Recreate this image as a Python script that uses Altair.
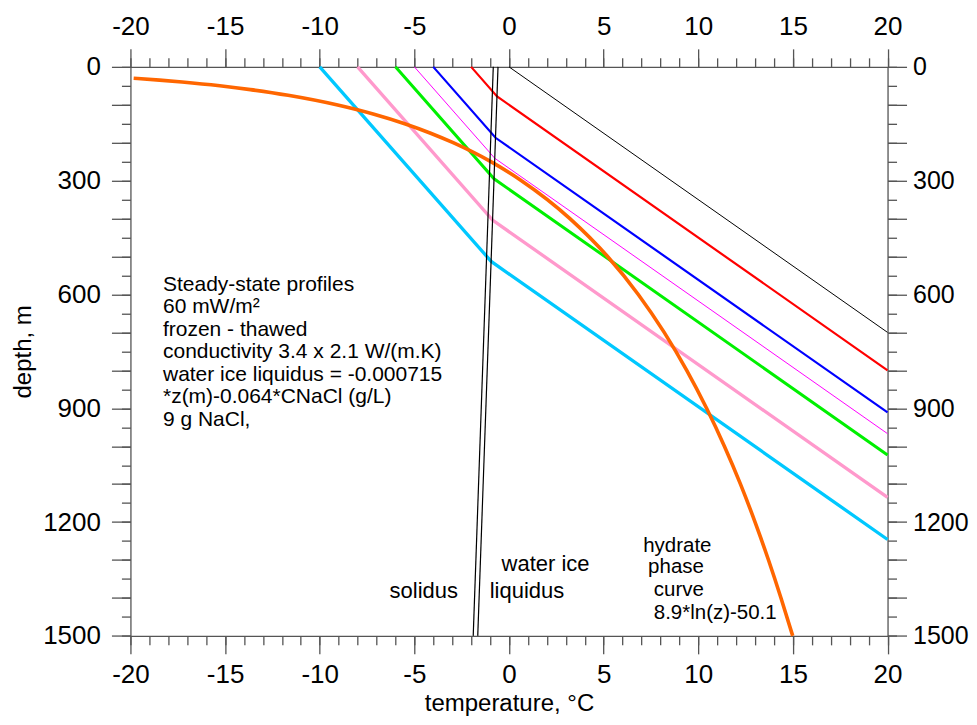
import altair as alt
import pandas as pd

# ---------------- data ----------------
profile_names = ["T0=0", "T0=-2", "T0=-4", "T0=-5", "T0=-6", "T0=-8", "T0=-10"]
profile_colors = ["#000000", "#ff0000", "#0000ff", "#ff00ff", "#00f000", "#ff99cc", "#00c8ff"]
profile_widths = [1.0, 2.2, 2.2, 1.0, 3.0, 3.3, 3.3]

p0_temp = [0, 20]
p0_depth = [0, 700]
p2_temp = [-2, -0.63, 20]
p2_depth = [0, 78, 800]
p4_temp = [-4, -0.71, 20]
p4_depth = [0, 187, 911]
p5_temp = [-5, -0.75, 20]
p5_depth = [0, 241, 967]
p6_temp = [-6, -0.79, 20]
p6_depth = [0, 295, 1023]
p8_temp = [-8, -0.87, 20]
p8_depth = [0, 404, 1135]
p10_temp = [-10, -0.94, 20]
p10_depth = [0, 513, 1246]

solidus_temp = [-0.83, -1.89]
solidus_depth = [0, 1500]
liquidus_temp = [-0.58, -1.65]
liquidus_depth = [0, 1500]

hydrate_depth = [30, 35, 40, 50, 60, 75, 100, 125, 150, 175, 200, 250, 300, 400, 500,
                 600, 700, 800, 900, 1000, 1100, 1200, 1300, 1400, 1500]
hydrate_temp = [-19.83, -18.46, -17.27, -15.28, -13.66, -11.67, -9.11, -7.13, -5.51,
                -4.14, -2.95, -0.96, 0.66, 3.22, 5.21, 6.83, 8.20, 9.39, 10.44, 11.38,
                12.23, 13.00, 13.71, 14.37, 14.99]

note_text = ["Steady-state profiles", "60 mW/m\u00b2", "frozen - thawed",
             "conductivity 3.4 x 2.1 W/(m.K)", "water ice liquidus = -0.000715",
             "*z(m)-0.064*CNaCl (g/L)", "9 g NaCl,",
             "solidus", "water ice", "liquidus",
             "hydrate", "phase", "curve", "8.9*ln(z)-50.1"]
note_temp = [-18.28] * 7 + [-6.31, -0.39, -1.02, 7.09, 7.35, 7.65, 7.65]
note_depth = [590, 649, 709, 768, 827, 886, 946,
              1399, 1329, 1399, 1278, 1335, 1396, 1455]
note_size = [21] * 7 + [22, 22, 22, 20.5, 20.5, 20.5, 20.5]

# ---------------- tables ----------------
prof_t = [p0_temp, p2_temp, p4_temp, p5_temp, p6_temp, p8_temp, p10_temp]
prof_z = [p0_depth, p2_depth, p4_depth, p5_depth, p6_depth, p8_depth, p10_depth]
rows = []
for name, w, ts, zs in zip(profile_names, profile_widths, prof_t, prof_z):
    for i, (t, z) in enumerate(zip(ts, zs)):
        rows.append({"series": name, "w": w, "T": t, "z": z, "idx": i})
profiles = pd.DataFrame(rows)

rows = []
for name, ts, zs in [("solidus", solidus_temp, solidus_depth),
                     ("liquidus", liquidus_temp, liquidus_depth)]:
    for i, (t, z) in enumerate(zip(ts, zs)):
        rows.append({"series": name, "T": t, "z": z, "idx": i})
phase = pd.DataFrame(rows)

hydrate = pd.DataFrame({"T": hydrate_temp, "z": hydrate_depth,
                        "idx": list(range(len(hydrate_depth)))})
notes = pd.DataFrame({"text": note_text, "T": note_temp, "z": note_depth, "fs": note_size})

# ---------------- scales & axes ----------------
FONT = "Liberation Sans"
AX = "#555555"
xs = alt.Scale(domain=[-20, 20], nice=False, zero=False)
ys = alt.Scale(domain=[0, 1500], reverse=True, nice=False, zero=False)

base = dict(grid=False, domainColor=AX, domainWidth=1.3, tickColor=AX, tickWidth=1.3,
            labelFont=FONT, labelColor="#000000", labelOverlap=False, labelFlush=False)

x_major_vals = list(range(-20, 21, 5))
x_minor_vals = list(range(-20, 21, 1))
y_major_vals = list(range(0, 1501, 100))
y_minor_vals = list(range(0, 1501, 50))
x_lab = "'' + datum.value"
y_lab = "datum.value % 300 == 0 ? '' + datum.value : ''"

x_bottom_major = alt.Axis(orient="bottom", values=x_major_vals, tickSize=18, labelPadding=8,
                          labelExpr=x_lab, labelFontSize=26,
                          title="temperature, \u00b0C", titleFont=FONT,
                          titleFontSize=24, titleFontWeight="normal", titleColor="#000000",
                          titlePadding=4, **base)
x_top_major = alt.Axis(orient="top", values=x_major_vals, tickSize=18, labelPadding=9,
                       labelExpr=x_lab, labelFontSize=26, title=None, **base)
x_bottom_minor = alt.Axis(orient="bottom", values=x_minor_vals, tickSize=9, labels=False,
                          domain=False, title=None, **base)
x_top_minor = alt.Axis(orient="top", values=x_minor_vals, tickSize=9, labels=False,
                       domain=False, title=None, **base)

y_left_major = alt.Axis(orient="left", values=y_major_vals, tickSize=19, labelPadding=11,
                        labelExpr=y_lab, labelFontSize=26,
                        title="depth, m", titleFont=FONT, titleFontSize=24,
                        titleFontWeight="normal", titleColor="#000000", titlePadding=7,
                        **base)
y_right_major = alt.Axis(orient="right", values=y_major_vals, tickSize=19, labelPadding=6,
                         labelExpr=y_lab, labelFontSize=25, title=None, **base)
y_left_minor = alt.Axis(orient="left", values=y_minor_vals, tickSize=9, labels=False,
                        domain=False, title=None, **base)
y_right_minor = alt.Axis(orient="right", values=y_minor_vals, tickSize=9, labels=False,
                         domain=False, title=None, **base)

# ---------------- layers ----------------
prof_layer = alt.Chart(profiles).mark_line().encode(
    x=alt.X("T:Q", scale=xs, axis=x_bottom_major),
    y=alt.Y("z:Q", scale=ys, axis=y_left_major),
    color=alt.Color("series:N", scale=alt.Scale(domain=profile_names, range=profile_colors),
                    legend=None),
    strokeWidth=alt.StrokeWidth("w:Q", scale=None, legend=None),
    detail="series:N",
    order=alt.Order("idx:Q"),
)

hyd_layer = alt.Chart(hydrate).mark_line(color="#ff6600", strokeWidth=3.6,
                                         interpolate="monotone").encode(
    x=alt.X("T:Q", scale=xs, axis=x_top_major),
    y=alt.Y("z:Q", scale=ys, axis=y_right_major),
    order=alt.Order("idx:Q"),
)

phase_layer = alt.Chart(phase).mark_line(color="#000000", strokeWidth=1.2).encode(
    x=alt.X("T:Q", scale=xs, axis=x_bottom_minor),
    y=alt.Y("z:Q", scale=ys, axis=y_left_minor),
    detail="series:N",
    order=alt.Order("idx:Q"),
)

text_layer = alt.Chart(notes).mark_text(font=FONT, align="left", baseline="alphabetic",
                                        color="#000000").encode(
    x=alt.X("T:Q", scale=xs, axis=x_top_minor),
    y=alt.Y("z:Q", scale=ys, axis=y_right_minor),
    text="text:N",
    size=alt.Size("fs:Q", scale=None, legend=None),
)

chart = alt.layer(prof_layer, hyd_layer, phase_layer, text_layer).resolve_axis(
    x="independent", y="independent"
).properties(
    width=757.5, height=569.3,
    autosize=alt.AutoSizeParams(type="none"),
    padding={"left": 122.5, "top": 58.7, "right": 81.5, "bottom": 80.5},
    background="white",
).configure_view(stroke=None)

chart.save("out.html", embed_options={"renderer": "svg", "actions": False})
